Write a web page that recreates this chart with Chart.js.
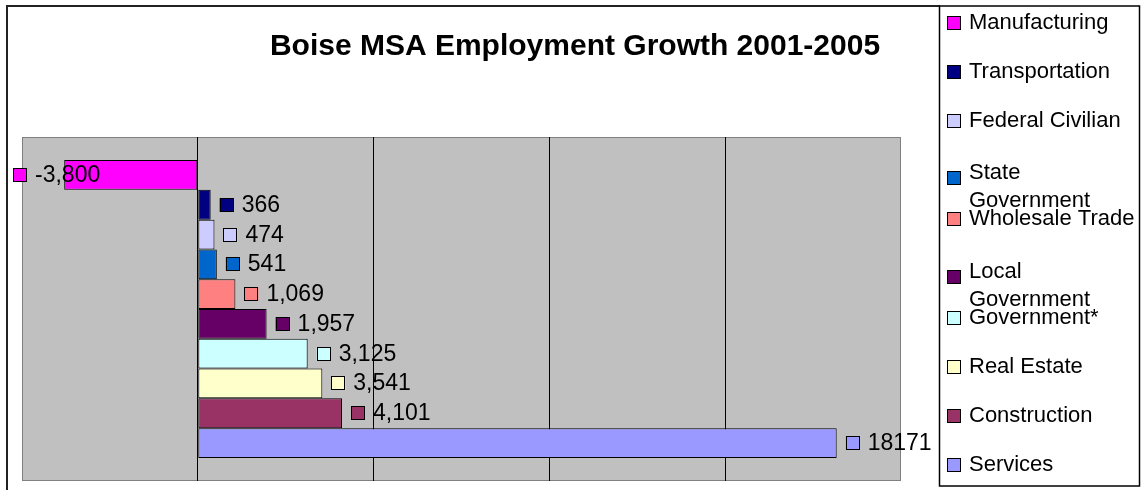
<!DOCTYPE html>
<html>
<head>
<meta charset="utf-8">
<script src="https://cdn.jsdelivr.net/npm/chart.js@4.4.1/dist/chart.umd.min.js"></script>
<style>
html, body { margin: 0; padding: 0; background: #fff; }
</style>
</head>
<body>
<canvas id="myChart" width="1144" height="490"></canvas>
<script>
// data
var chartTitle = "Boise MSA Employment Growth 2001-2005";
var sectors = ["Manufacturing", "Transportation", "Federal Civilian", "State Government", "Wholesale Trade",
  "Local Government", "Government*", "Real Estate", "Construction", "Services"];
var growth = [-3800, 366, 474, 541, 1069, 1957, 3125, 3541, 4101, 18171];
var growthLabels = ["-3,800", "366", "474", "541", "1,069", "1,957", "3,125", "3,541", "4,101", "18171"];
var sectorColors = ["#ff00ff", "#000080", "#ccccff", "#0066cc", "#ff8080",
  "#660066", "#ccffff", "#ffffcc", "#993366", "#9999ff"];

var fontFam = '"Liberation Sans", Arial, sans-serif';

var excelLook = {
  id: "excelLook",
  beforeDraw: function (chart) {
    var ctx = chart.ctx, a = chart.chartArea;
    ctx.save();
    ctx.fillStyle = "#fff";
    ctx.fillRect(0, 0, chart.width, chart.height);
    // outer frame
    ctx.strokeStyle = "#222";
    ctx.lineWidth = 2;
    ctx.beginPath();
    ctx.moveTo(7, chart.height);
    ctx.lineTo(7, 6);
    ctx.lineTo(940, 6);
    ctx.stroke();
    // plot area
    ctx.fillStyle = "#c0c0c0";
    ctx.fillRect(a.left, a.top, a.right - a.left, a.bottom - a.top);
    ctx.strokeStyle = "#808080";
    ctx.lineWidth = 1;
    ctx.strokeRect(a.left + 0.5, a.top + 0.5, a.right - a.left - 1, a.bottom - a.top - 1);
    // title
    ctx.fillStyle = "#000";
    ctx.font = "bold 30px " + fontFam;
    ctx.textAlign = "center";
    ctx.textBaseline = "alphabetic";
    ctx.fillText(chartTitle, 575, 55);
    ctx.restore();
  },
  afterDatasetsDraw: function (chart) {
    var ctx = chart.ctx;
    ctx.save();
    ctx.font = "23px " + fontFam;
    chart.data.datasets.forEach(function (ds, i) {
      var bar = chart.getDatasetMeta(i).data[0];
      var txt = growthLabels[i];
      var tw = ctx.measureText(txt).width;
      var x = growth[i] >= 0 ? bar.x + 9 : Math.max(13, bar.x - 9 - 22 - tw);
      var y = Math.round(bar.y);
      ctx.fillStyle = ds.backgroundColor;
      ctx.fillRect(x, y - 7, 14, 14);
      ctx.strokeStyle = "#000";
      ctx.lineWidth = 1;
      ctx.strokeRect(Math.round(x) + 0.5, y - 6.5, 13, 13);
      ctx.fillStyle = "#000";
      ctx.textAlign = "left";
      ctx.textBaseline = "middle";
      ctx.fillText(txt, x + 22, y + 1);
    });
    ctx.restore();
  },
  afterDraw: function (chart) {
    var ctx = chart.ctx;
    var box = { left: 939, top: 6, right: 1139, bottom: 486 };
    ctx.save();
    ctx.fillStyle = "#fff";
    ctx.fillRect(box.left, box.top, box.right - box.left, box.bottom - box.top);
    ctx.strokeStyle = "#000";
    ctx.lineWidth = 1.5;
    ctx.strokeRect(box.left + 0.5, box.top, box.right - box.left, box.bottom - box.top);
    ctx.font = "22px " + fontFam;
    ctx.textAlign = "left";
    ctx.textBaseline = "middle";
    chart.data.datasets.forEach(function (ds, i) {
      // simple word wrap like the excel legend
      var words = ds.label.split(" "), lines = [], cur = "";
      words.forEach(function (w) {
        var t = cur ? cur + " " + w : w;
        if (cur && ctx.measureText(t).width > 170) { lines.push(cur); cur = w; } else cur = t;
      });
      lines.push(cur);
      var yc = box.top + 17 + 49.1 * i;
      var y0 = lines.length > 1 ? yc + 3 : yc;
      var sy = lines.length > 1 ? y0 + 5 : y0;
      ctx.fillStyle = ds.backgroundColor;
      ctx.fillRect(947, Math.round(sy) - 7, 14, 14);
      ctx.strokeStyle = "#000";
      ctx.lineWidth = 1;
      ctx.strokeRect(947.5, Math.round(sy) - 6.5, 13, 13);
      ctx.fillStyle = "#000";
      lines.forEach(function (l, k) {
        ctx.fillText(l, 969, y0 + k * 28);
      });
    });
    ctx.restore();
  }
};

var datasets = sectors.map(function (s, i) {
  return {
    label: s,
    data: [growth[i]],
    backgroundColor: sectorColors[i],
    borderColor: "#000",
    borderWidth: 1,
    borderSkipped: false
  };
});

var chart = new Chart(document.getElementById("myChart").getContext("2d"), {
  type: "bar",
  data: { labels: [""], datasets: datasets },
  options: {
    responsive: false,
    animation: false,
    indexAxis: "y",
    categoryPercentage: 0.866,
    barPercentage: 1,
    layout: { padding: { left: 22, top: 137, right: 243, bottom: 9 } },
    scales: {
      x: {
        min: -5000,
        max: 20000,
        ticks: { display: false, stepSize: 5000 },
        grid: {
          drawTicks: false,
          color: function (c) {
            return c.tick && (c.tick.value === -5000 || c.tick.value === 20000) ? "rgba(0,0,0,0)" : "#000";
          }
        },
        border: { display: false }
      },
      y: {
        ticks: { display: false },
        grid: { display: false, drawTicks: false },
        border: { display: false }
      }
    },
    plugins: {
      legend: { display: false },
      title: { display: false },
      tooltip: { enabled: false }
    }
  },
  plugins: [excelLook]
});
</script>
</body>
</html>
